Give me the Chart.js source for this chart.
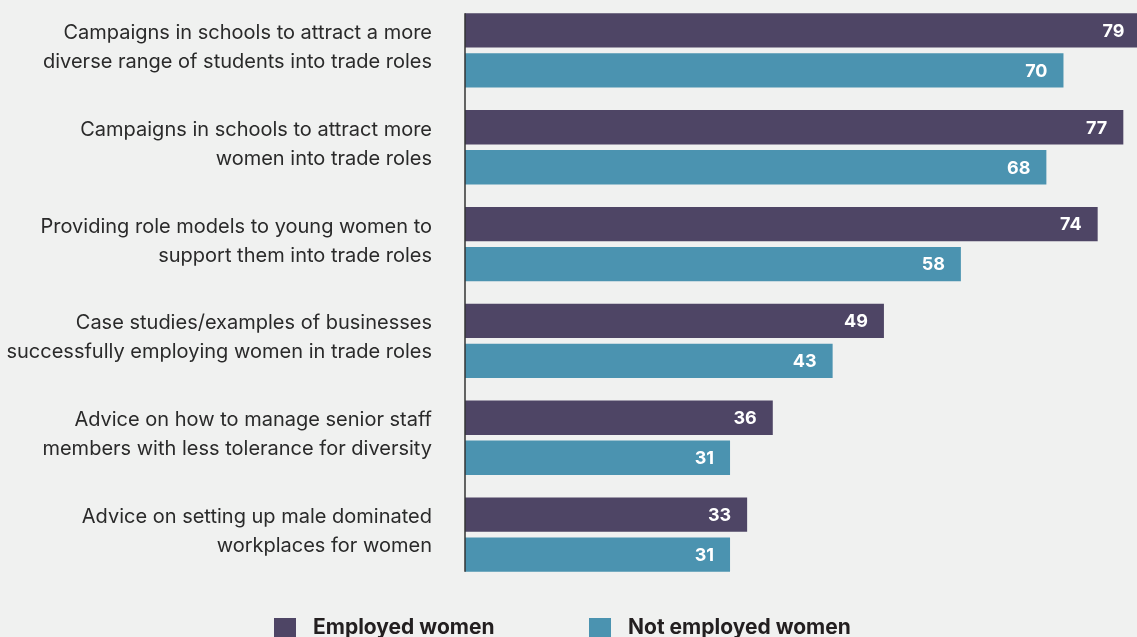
<!DOCTYPE html>
<html>
<head>
<meta charset="utf-8">
<script src="https://cdn.jsdelivr.net/npm/chart.js@4"></script>
<style>
  html, body { margin: 0; padding: 0; background: #f0f1f0; overflow: hidden; }
  #wrap { position: relative; width: 1137px; height: 637px; }
  #myChart { display: block; }
  #legend { position: absolute; left: 0; top: 616px; width: 1137px; height: 30px; font-family: Inter, sans-serif; font-weight: 700; font-size: 21px; color: #231f20; }
  .item { position: absolute; top: 0; line-height: 22px; }
  .swatch { position: absolute; top: 2px; width: 22px; height: 22px; }
</style>
</head>
<body>
<div id="wrap">
  <canvas id="myChart" width="1137" height="637"></canvas>
  <div id="legend"></div>
</div>
<script>
// Survey answers, % of respondents
const categories = [
  ["Campaigns in schools to attract a more", "diverse range of students into trade roles"],
  ["Campaigns in schools to attract more", "women into trade roles"],
  ["Providing role models to young women to", "support them into trade roles"],
  ["Case studies/examples of businesses", "successfully employing women in trade roles"],
  ["Advice on how to manage senior staff", "members with less tolerance for diversity"],
  ["Advice on setting up male dominated", "workplaces for women"]
];
const employed = [79, 77, 74, 49, 36, 33];
const notEmployed = [70, 68, 58, 43, 31, 31];
const seriesNames = ["Employed women", "Not employed women"];
const colors = ["#4e4565", "#4b93b0"];

// white value labels inside the end of each bar
const valueLabels = {
  id: 'valueLabels',
  afterDatasetsDraw(chart) {
    const ctx = chart.ctx;
    ctx.save();
    ctx.font = "bold 18px Inter, sans-serif";
    ctx.fillStyle = "#ffffff";
    ctx.textAlign = "right";
    ctx.textBaseline = "middle";
    chart.data.datasets.forEach((ds, i) => {
      chart.getDatasetMeta(i).data.forEach((bar, j) => {
        ctx.fillText(ds.data[j], bar.x - 16, bar.y + 1);
      });
    });
    ctx.restore();
  }
};

// vertical baseline at zero, only as tall as the bars
const zeroLine = {
  id: 'zeroLine',
  afterDatasetsDraw(chart) {
    const first = chart.getDatasetMeta(0).data[0];
    const lastMeta = chart.getDatasetMeta(1).data;
    const last = lastMeta[lastMeta.length - 1];
    const x = chart.scales.x.getPixelForValue(0);
    const ctx = chart.ctx;
    ctx.save();
    ctx.strokeStyle = "#333333";
    ctx.lineWidth = 1.5;
    ctx.beginPath();
    ctx.moveTo(x, first.y - first.height / 2);
    ctx.lineTo(x, last.y + last.height / 2);
    ctx.stroke();
    ctx.restore();
  }
};

const myChart = document.getElementById('myChart');

let barChart = new Chart(myChart, {
  type: 'bar',
  data: {
    labels: categories,
    datasets: [
      { label: seriesNames[0], data: employed, backgroundColor: colors[0] },
      { label: seriesNames[1], data: notEmployed, backgroundColor: colors[1] }
    ]
  },
  options: {
    indexAxis: 'y',
    responsive: false,
    animation: false,
    categoryPercentage: 0.826,
    barPercentage: 0.86,
    layout: { padding: { top: 2, bottom: 54, left: 0, right: 0 } },
    plugins: {
      legend: { display: false },
      tooltip: { enabled: false }
    },
    scales: {
      x: {
        display: false,
        min: 0,
        max: 78.6
      },
      y: {
        afterFit: scale => {
          scale.width = 465;
          // multi-line labels should not push the plot area in
          scale.paddingTop = 0;
          scale.paddingBottom = 0;
        },
        grid: { display: false, drawTicks: false },
        border: { display: false },
        ticks: {
          padding: 33,
          labelOffset: -3,
          color: "#2a2a2a",
          font: { family: "Inter, sans-serif", size: 20, lineHeight: 1.45 }
        }
      }
    }
  },
  plugins: [valueLabels, zeroLine]
});

// legend under the chart
const legend = document.getElementById('legend');
const legendX = [274, 589];
seriesNames.forEach((name, i) => {
  const sw = document.createElement('div');
  sw.className = 'swatch';
  sw.style.left = legendX[i] + 'px';
  sw.style.background = colors[i];
  legend.appendChild(sw);
  const item = document.createElement('div');
  item.className = 'item';
  item.style.left = (legendX[i] + 39) + 'px';
  item.textContent = name;
  legend.appendChild(item);
});
</script>
</body>
</html>
